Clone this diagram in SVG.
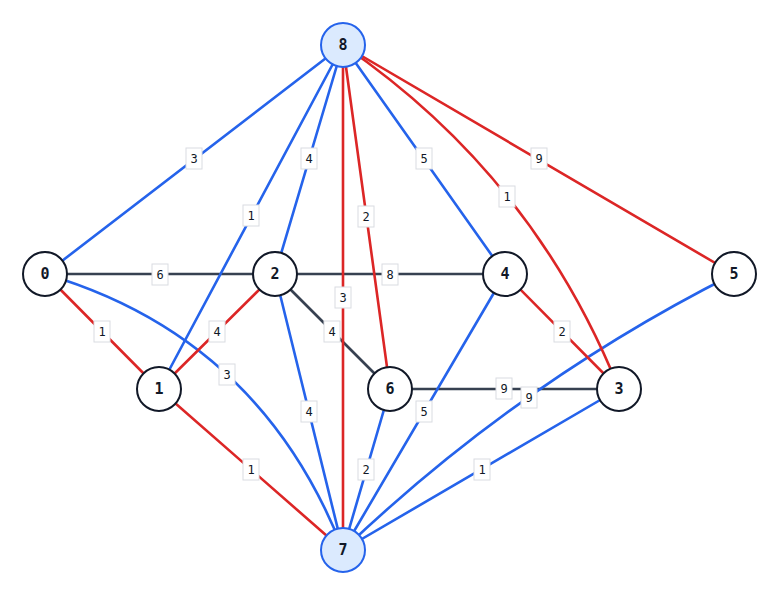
<svg xmlns="http://www.w3.org/2000/svg" width="780" height="596" viewBox="0 0 780 596">
<style>
.e{fill:none;stroke-width:2.6;stroke-linecap:round}
.b{stroke:#2563eb}
.r{stroke:#dc2626}
.g{stroke:#374151}
.lb rect{fill:#ffffff;stroke:#d9dce1;stroke-width:1}
.lb text{font-family:"DejaVu Sans Mono",monospace;font-size:12px;font-weight:500;fill:#111827;text-anchor:middle;dominant-baseline:central}
.n circle{fill:#ffffff;stroke:#111827;stroke-width:2}
.n.s circle{fill:#dbeafe;stroke:#2563eb}
.n text{font-family:"DejaVu Sans Mono",monospace;font-size:15px;font-weight:bold;fill:#111827;text-anchor:middle;dominant-baseline:central}
</style>
<rect width="780" height="596" fill="#ffffff"/>
<g id="connectors">
<line class="e g" x1="45" y1="274" x2="275" y2="274"/>
<line class="e g" x1="275" y1="274" x2="505" y2="274"/>
<line class="e g" x1="275" y1="274" x2="390" y2="389"/>
<line class="e g" x1="390" y1="389" x2="619" y2="389"/>
<line class="e b" x1="343" y1="45" x2="45" y2="274"/>
<line class="e b" x1="343" y1="45" x2="159" y2="389"/>
<line class="e b" x1="343" y1="45" x2="275" y2="274"/>
<line class="e b" x1="343" y1="45" x2="505" y2="274"/>
<path class="e b" d="M45 274 Q260 337 343 550"/>
<line class="e b" x1="275" y1="274" x2="343" y2="550"/>
<line class="e b" x1="505" y1="274" x2="343" y2="550"/>
<line class="e b" x1="390" y1="389" x2="343" y2="550"/>
<path class="e b" d="M734 274 Q519 382 343 550"/>
<line class="e b" x1="619" y1="389" x2="343" y2="550"/>
<line class="e r" x1="343" y1="45" x2="343" y2="550"/>
<line class="e r" x1="343" y1="45" x2="390" y2="389"/>
<path class="e r" d="M343 45 Q533 175 619 389"/>
<line class="e r" x1="343" y1="45" x2="734" y2="274"/>
<line class="e r" x1="45" y1="274" x2="159" y2="389"/>
<line class="e r" x1="159" y1="389" x2="275" y2="274"/>
<line class="e r" x1="505" y1="274" x2="619" y2="389"/>
<line class="e r" x1="159" y1="389" x2="343" y2="550"/>
</g>
<g id="edge-labels">
<g class="lb"><rect x="152" y="264" width="16" height="21"/><text x="160" y="274.5">6</text></g>
<g class="lb"><rect x="382" y="264" width="16" height="21"/><text x="390" y="274.5">8</text></g>
<g class="lb"><rect x="324" y="321" width="16" height="21"/><text x="332" y="331.5">4</text></g>
<g class="lb"><rect x="496" y="378" width="16" height="21"/><text x="504" y="388.5">9</text></g>
<g class="lb"><rect x="186" y="148" width="16" height="21"/><text x="194" y="158.5">3</text></g>
<g class="lb"><rect x="243" y="205" width="16" height="21"/><text x="251" y="215.5">1</text></g>
<g class="lb"><rect x="301" y="148" width="16" height="21"/><text x="309" y="158.5">4</text></g>
<g class="lb"><rect x="416" y="148" width="16" height="21"/><text x="424" y="158.5">5</text></g>
<g class="lb"><rect x="219" y="364" width="16" height="21"/><text x="227" y="374.5">3</text></g>
<g class="lb"><rect x="301" y="401" width="16" height="21"/><text x="309" y="411.5">4</text></g>
<g class="lb"><rect x="416" y="401" width="16" height="21"/><text x="424" y="411.5">5</text></g>
<g class="lb"><rect x="358" y="459" width="16" height="21"/><text x="366" y="469.5">2</text></g>
<g class="lb"><rect x="521" y="387" width="16" height="21"/><text x="529" y="397.5">9</text></g>
<g class="lb"><rect x="474" y="459" width="16" height="21"/><text x="482" y="469.5">1</text></g>
<g class="lb"><rect x="335" y="287" width="16" height="21"/><text x="343" y="297.5">3</text></g>
<g class="lb"><rect x="358" y="206" width="16" height="21"/><text x="366" y="216.5">2</text></g>
<g class="lb"><rect x="499" y="186" width="16" height="21"/><text x="507" y="196.5">1</text></g>
<g class="lb"><rect x="531" y="148" width="16" height="21"/><text x="539" y="158.5">9</text></g>
<g class="lb"><rect x="94" y="321" width="16" height="21"/><text x="102" y="331.5">1</text></g>
<g class="lb"><rect x="209" y="321" width="16" height="21"/><text x="217" y="331.5">4</text></g>
<g class="lb"><rect x="554" y="321" width="16" height="21"/><text x="562" y="331.5">2</text></g>
<g class="lb"><rect x="243" y="459" width="16" height="21"/><text x="251" y="469.5">1</text></g>
</g>
<g id="node-8" class="n s"><circle cx="343" cy="45" r="22"/><text x="343" y="45">8</text></g>
<g id="node-7" class="n s"><circle cx="343" cy="550" r="22"/><text x="343" y="550">7</text></g>
<g id="node-0" class="n"><circle cx="45" cy="274" r="22"/><text x="45" y="274">0</text></g>
<g id="node-2" class="n"><circle cx="275" cy="274" r="22"/><text x="275" y="274">2</text></g>
<g id="node-4" class="n"><circle cx="505" cy="274" r="22"/><text x="505" y="274">4</text></g>
<g id="node-5" class="n"><circle cx="734" cy="274" r="22"/><text x="734" y="274">5</text></g>
<g id="node-1" class="n"><circle cx="159" cy="389" r="22"/><text x="159" y="389">1</text></g>
<g id="node-6" class="n"><circle cx="390" cy="389" r="22"/><text x="390" y="389">6</text></g>
<g id="node-3" class="n"><circle cx="619" cy="389" r="22"/><text x="619" y="389">3</text></g>
</svg>
